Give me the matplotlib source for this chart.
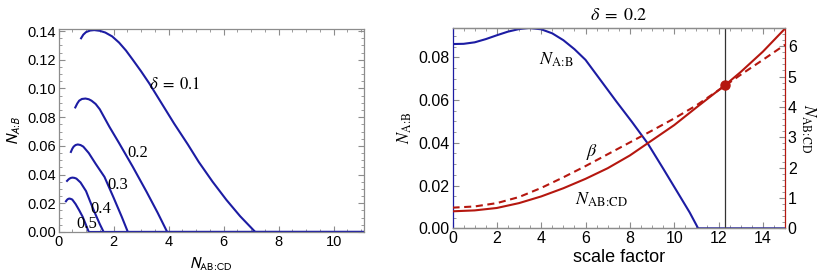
import matplotlib.pyplot as plt
from matplotlib.ticker import MultipleLocator

plt.rcParams['font.family'] = ['Liberation Sans', 'DejaVu Sans']

BLUE = '#1c1ca3'
RED = '#b5170f'
GRAY = '#8c8c8c'

# left panel: N_A:B against N_AB:CD for several delta
d01_x = [0.82, 0.9, 1.0, 1.15, 1.3, 1.5, 1.7, 1.95, 2.2, 2.45, 2.7, 3.0, 3.3, 3.8, 4.2, 4.7, 5.1, 5.6, 6.1, 6.6, 7.15, 11.1]
d01_y = [0.135, 0.1375, 0.1393, 0.1404, 0.1407, 0.1402, 0.139, 0.1363, 0.132, 0.1265, 0.120, 0.112, 0.1035, 0.088,
         0.0756, 0.061, 0.0487, 0.035, 0.0224, 0.011, 0.0, 0.0]
d02_x = [0.61, 0.68, 0.75, 0.85, 0.98, 1.1, 1.2, 1.35, 1.5, 1.85, 2.2, 2.7, 3.2, 3.6, 3.95, 11.1]
d02_y = [0.0868, 0.0895, 0.0915, 0.0927, 0.093, 0.0925, 0.0915, 0.0892, 0.0855, 0.0733, 0.062, 0.0454, 0.028, 0.0135,
         0.0, 0.0]
d03_x = [0.45, 0.5, 0.55, 0.62, 0.7, 0.8, 0.9, 1.1, 1.35, 1.67, 2.0, 2.3, 2.52, 11.1]
d03_y = [0.0558, 0.0580, 0.0595, 0.0606, 0.061, 0.0606, 0.0595, 0.055, 0.0475, 0.0384, 0.024, 0.0105, 0.0, 0.0]
d04_x = [0.31, 0.36, 0.4, 0.45, 0.51, 0.58, 0.65, 0.8, 1.0, 1.18, 1.35, 1.5, 1.64, 11.1]
d04_y = [0.0356, 0.0366, 0.0372, 0.0377, 0.0379, 0.0377, 0.0372, 0.0345, 0.0285, 0.0198, 0.012, 0.0055, 0.0, 0.0]
d05_x = [0.27, 0.3, 0.33, 0.36, 0.39, 0.44, 0.5, 0.62, 0.75, 0.88, 1.0, 1.1, 11.1]
d05_y = [0.0214, 0.0222, 0.0228, 0.0231, 0.0233, 0.0231, 0.0226, 0.0195, 0.0152, 0.0105, 0.0048, 0.0, 0.0]
curve_labels = ['$\\delta\\;=\\;0.1$', '0.2', '0.3', '0.4', '0.5']
label_xy = [(4.23, 0.1023), (2.89, 0.0551), (2.16, 0.033), (1.52, 0.0158), (1.02, 0.0054)]

# right panel: delta = 0.2 against scale factor
sf_blue = [0, 0.5, 1.0, 1.5, 2.0, 2.5, 3.0, 3.45, 4.0, 4.5, 5.0, 5.5, 6.0, 6.7, 7.4, 8.1, 8.8, 9.5, 10.2, 10.7, 11.08, 15]
nab = [0.0862, 0.0863, 0.0870, 0.0885, 0.0903, 0.0920, 0.0932, 0.0937, 0.0931, 0.0912, 0.0880, 0.0838, 0.0788,
       0.0690, 0.0592, 0.0497, 0.0398, 0.0280, 0.0160, 0.0074, 0.0, 0.0]
sf_red = [0, 1, 2, 3, 4, 5, 6, 7, 8, 8.8, 10, 11, 12.3, 13, 14, 15]
nabcd = [0.56, 0.59, 0.67, 0.83, 1.05, 1.32, 1.63, 1.98, 2.40, 2.80, 3.40, 3.98, 4.72, 5.15, 5.82, 6.58]
sf_beta = [0, 1, 2, 3, 4, 5, 6, 7, 8, 9, 10, 11, 12, 12.3, 13, 14, 15]
beta = [0.68, 0.72, 0.83, 1.03, 1.33, 1.68, 2.05, 2.44, 2.83, 3.22, 3.62, 4.05, 4.55, 4.70, 5.06, 5.55, 6.05]
sf_mark = 12.3
mark_val = 4.72

SUB_AB = '$N_{\\mathrm{A\\!:\\!B}}$'
SUB_ABCD = '$N_{\\mathrm{AB\\!:\\!CD}}$'


def frame(ax, color=GRAY):
    for s in ax.spines.values():
        s.set_color(color)
        s.set_linewidth(0.9)
    ax.tick_params(which='both', direction='in', colors=GRAY, labelcolor='black')
    ax.tick_params(which='major', length=4)
    ax.tick_params(which='minor', length=2)


fig = plt.figure(figsize=(8.3, 2.77), dpi=100)

# ---- left panel
ax1 = fig.add_axes([0.0705, 0.1625, 0.368, 0.733])
for xs, ys in [(d01_x, d01_y), (d02_x, d02_y), (d03_x, d03_y), (d04_x, d04_y), (d05_x, d05_y)]:
    ax1.plot(xs, ys, color=BLUE, lw=1.5)
for txt, (tx, ty) in zip(curve_labels, label_xy):
    ax1.text(tx, ty, txt, ha='center', va='center', fontsize=12,
             family='Liberation Serif', math_fontfamily='stix')
ax1.set_xlim(0, 11.1)
ax1.set_ylim(0, 0.1415)
ax1.xaxis.set_major_locator(MultipleLocator(2))
ax1.xaxis.set_minor_locator(MultipleLocator(0.5))
ax1.yaxis.set_major_locator(MultipleLocator(0.02))
ax1.yaxis.set_minor_locator(MultipleLocator(0.005))
ax1.yaxis.set_major_formatter(plt.FormatStrFormatter('%.2f'))
frame(ax1)
ax1.tick_params(which='both', top=True, right=True, labelsize=10.5, pad=2)
ax1.set_xlabel('$N_{\\mathrm{AB\\!:\\!CD}}$', fontsize=11, math_fontfamily='stixsans', labelpad=5)
ax1.set_ylabel('$N_{A\\!:\\!B}$', fontsize=11, math_fontfamily='stixsans', labelpad=3)

# ---- right panel
ax2 = fig.add_axes([0.5452, 0.1758, 0.4006, 0.7231])
ax3 = ax2.twinx()
ax2.plot(sf_blue, nab, color=BLUE, lw=1.5)
ax3.plot(sf_red, nabcd, color=RED, lw=1.5)
ax3.plot(sf_beta, beta, color=RED, lw=1.5, ls=(0, (3.4, 2.2)))
ax3.plot([sf_mark], [mark_val], 'o', color=RED, ms=6.5)
ax2.axvline(sf_mark, color='#333333', lw=0.9)

ax2.set_xlim(0, 15)
ax2.set_ylim(0, 0.0937)
ax3.set_ylim(0, 6.6)
ax2.xaxis.set_major_locator(MultipleLocator(2))
ax2.xaxis.set_minor_locator(MultipleLocator(0.5))
ax2.yaxis.set_major_locator(MultipleLocator(0.02))
ax2.yaxis.set_minor_locator(MultipleLocator(0.005))
ax2.yaxis.set_major_formatter(plt.FormatStrFormatter('%.2f'))
ax3.yaxis.set_major_locator(MultipleLocator(1))
ax3.yaxis.set_minor_locator(MultipleLocator(0.2))
frame(ax2)
frame(ax3)
ax2.tick_params(which='both', top=True, right=False, labelsize=11.5, pad=2)
ax3.tick_params(which='both', labelsize=11.5, pad=2)
ax2.spines['left'].set_color(BLUE)
ax3.spines['left'].set_visible(False)
ax3.spines['right'].set_color(RED)
ax2.spines['right'].set_visible(False)

ax2.text(4.7, 0.079, SUB_AB, ha='center', va='center', fontsize=13, math_fontfamily='stix')
ax2.text(6.3, 0.0359, '$\\beta$', ha='center', va='center', fontsize=13, math_fontfamily='stix')
ax2.text(6.74, 0.0133, SUB_ABCD, ha='center', va='center', fontsize=13, math_fontfamily='stix')

ax2.set_title('$\\delta\\;=\\;0.2$', fontsize=13, math_fontfamily='stix', pad=6)
ax2.set_xlabel('scale factor', fontsize=13, labelpad=2)
ax2.set_ylabel(SUB_AB, fontsize=12, math_fontfamily='stix', labelpad=3)
ax3.set_ylabel(SUB_ABCD, fontsize=12, math_fontfamily='stix', rotation=270, labelpad=15)

fig.savefig('out.png', dpi=100)
